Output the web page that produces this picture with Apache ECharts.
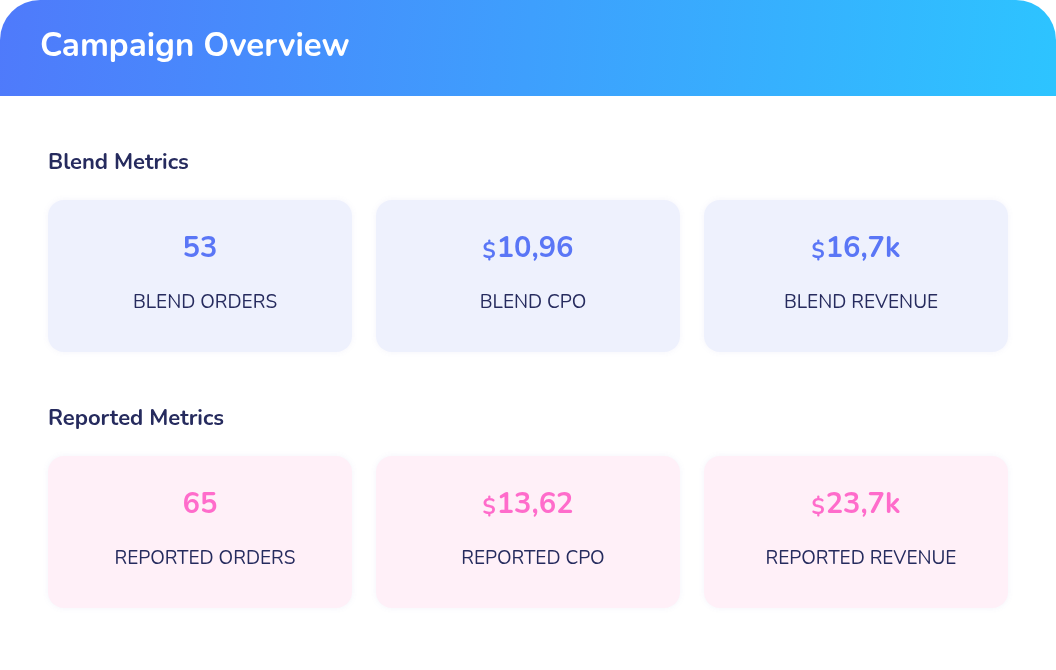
<!DOCTYPE html>
<html>
<head>
<meta charset="utf-8">
<script src="https://cdn.jsdelivr.net/npm/echarts@6/dist/echarts.min.js"></script>
<style>
html,body{margin:0;padding:0;background:#fff;}
#main{width:1056px;height:670px;}
</style>
</head>
<body>
<div id="main"></div>
<script>
// 数据
var chartTitle = 'Campaign Overview';
var sectionTitles = ['Blend Metrics', 'Reported Metrics'];
var blendLabels = ['BLEND ORDERS', 'BLEND CPO', 'BLEND REVENUE'];
var blendValues = ['53', '10,96', '16,7k'];
var blendPrefix = ['', '$', '$'];
var reportedLabels = ['REPORTED ORDERS', 'REPORTED CPO', 'REPORTED REVENUE'];
var reportedValues = ['65', '13,62', '23,7k'];
var reportedPrefix = ['', '$', '$'];

var chart = echarts.init(document.getElementById('main'));
var font = 'Nunito, Lato, "Noto Sans", sans-serif';

function cards(top, labels, values, prefix, bg, valColor) {
    var els = [];
    for (var i = 0; i < labels.length; i++) {
        var x = 48 + i * 328;
        els.push({
            type: 'rect',
            shape: {x: x, y: top, width: 304, height: 152, r: 16},
            style: {fill: bg, shadowBlur: 6, shadowColor: 'rgba(120,120,200,0.08)'}
        });
        els.push({
            type: 'text', x: x + 152, y: top + 50,
            style: {
                text: (prefix[i] ? '{p|' + prefix[i] + '}' : '') + '{v|' + values[i] + '}',
                align: 'center', verticalAlign: 'middle',
                rich: {
                    p: {fontSize: 22, fontWeight: 'bold', fill: valColor, fontFamily: font, padding: [6, 1, 0, 0]},
                    v: {fontSize: 29, fontWeight: 'bold', fill: valColor, fontFamily: font}
                }
            }
        });
        els.push({
            type: 'text', x: x + 157, y: top + 103,
            style: {text: labels[i], align: 'center', verticalAlign: 'middle',
                fontSize: 19, fill: '#262B5E', fontFamily: font}
        });
    }
    return els;
}

var graphics = [
    {
        type: 'rect',
        shape: {x: 0, y: 0, width: 1056, height: 96, r: [40, 40, 0, 0]},
        style: {fill: new echarts.graphic.LinearGradient(0, 0, 1, 1, [
            {offset: 0, color: '#4F7AFB'},
            {offset: 1, color: '#2DC4FF'}
        ])}
    },
    {
        type: 'text', x: 40, y: 48,
        style: {text: chartTitle, verticalAlign: 'middle', fontSize: 33, fontWeight: 'bold', fill: '#fff', fontFamily: font}
    },
    {
        type: 'text', x: 48, y: 164,
        style: {text: sectionTitles[0], verticalAlign: 'middle', fontSize: 22, fontWeight: 'bold', fill: '#262B5E', fontFamily: font}
    },
    {
        type: 'text', x: 48, y: 420,
        style: {text: sectionTitles[1], verticalAlign: 'middle', fontSize: 22, fontWeight: 'bold', fill: '#262B5E', fontFamily: font}
    }
];
graphics = graphics.concat(cards(200, blendLabels, blendValues, blendPrefix, '#EEF1FD', '#5A76F6'));
graphics = graphics.concat(cards(456, reportedLabels, reportedValues, reportedPrefix, '#FFF0F8', '#FF6CCB'));

chart.setOption({
    backgroundColor: '#ffffff',
    graphic: {elements: graphics}
});
</script>
</body>
</html>
